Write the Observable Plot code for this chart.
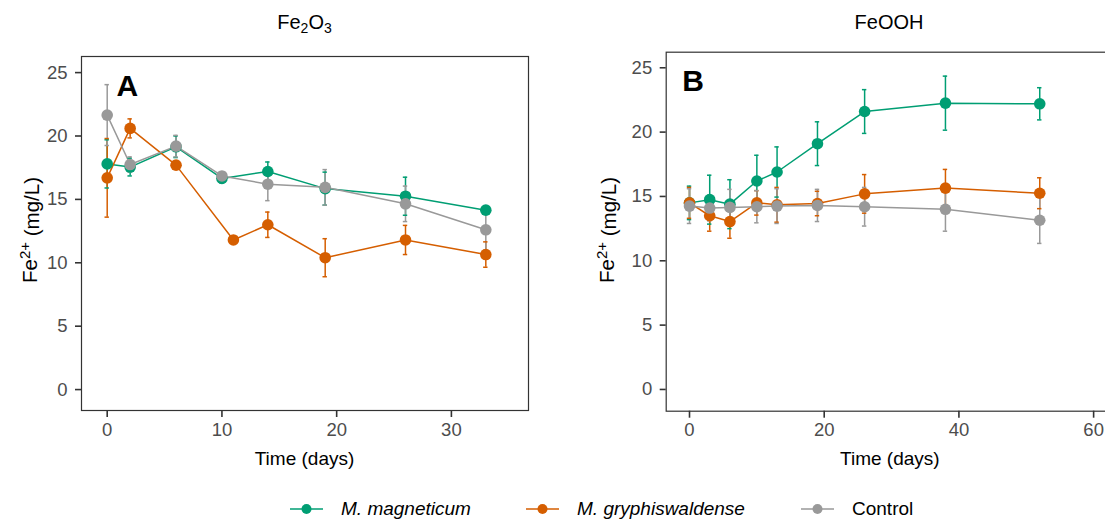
<!DOCTYPE html>
<html>
<head>
<meta charset="utf-8">
<script src="https://cdn.jsdelivr.net/npm/d3@7"></script>
<script src="https://cdn.jsdelivr.net/npm/@observablehq/plot@0.6"></script>
<style>
html, body { margin: 0; padding: 0; background: #fff; overflow: hidden; }
#wrap { position: relative; width: 1105px; height: 519px; overflow: hidden; background: #fff;
        font-family: "Liberation Sans", Arial, Helvetica, sans-serif; }
.panel { position: absolute; top: 0; }
.title { position: absolute; top: 0; font-size: 20px; color: #000; white-space: nowrap;
         transform: translateX(-50%); line-height: 1; }
.title sub { font-size: 14px; vertical-align: -4px; line-height: 0; }
svg [aria-label="x-axis tick label"], svg [aria-label="y-axis tick label"] { fill: #4d4d4d; font-size: 18.5px; }
svg [aria-label="x-axis tick label"] text, svg [aria-label="y-axis tick label"] text { font-size: 18.5px; }
</style>
</head>
<body>
<div id="wrap"></div>
<script>
// ---------- data ----------
const seriesNames = ["M. magneticum", "M. gryphiswaldense", "Control"];
const seriesColors = ["#009E73", "#D55E00", "#999999"];

// Panel A: Fe2O3
const daysA_mag = [0, 2, 6, 10, 14, 19, 26, 33];
const meanA_mag = [17.8, 17.55, 19.15, 16.65, 17.2, 15.85, 15.25, 14.15];
const sdA_mag   = [1.9, 0.7, 0.85, 0.35, 0.75, 1.3, 1.5, 0.2];

const daysA_gry = [0, 2, 6, 11, 14, 19, 26, 33];
const meanA_gry = [16.7, 20.6, 17.7, 11.8, 13.0, 10.4, 11.8, 10.65];
const sdA_gry   = [3.1, 0.75, 0.2, 0.2, 1.0, 1.5, 1.15, 1.0];

const daysA_ctl = [0, 2, 6, 10, 14, 19, 26, 33];
const meanA_ctl = [21.65, 17.75, 19.2, 16.85, 16.2, 15.95, 14.65, 12.6];
const sdA_ctl   = [2.4, 0.6, 0.85, 0.3, 1.3, 1.4, 1.4, 1.6];

// Panel B: FeOOH
const daysB = [0, 3, 6, 10, 13, 19, 26, 38, 52];
const meanB_mag = [14.5, 14.75, 14.4, 16.2, 16.9, 19.1, 21.6, 22.25, 22.2];
const sdB_mag   = [1.3, 1.9, 1.9, 2.0, 1.95, 1.7, 1.7, 2.1, 1.25];
const meanB_gry = [14.5, 13.5, 13.05, 14.5, 14.35, 14.45, 15.2, 15.65, 15.25];
const sdB_gry   = [1.2, 1.2, 1.3, 0.95, 1.35, 0.95, 1.5, 1.45, 1.2];
const meanB_ctl = [14.25, 14.1, 14.15, 14.2, 14.25, 14.3, 14.2, 14.0, 13.15];
const sdB_ctl   = [1.35, 1.0, 1.4, 1.25, 1.35, 1.25, 1.5, 1.7, 1.8];

const yTicks = [0, 5, 10, 15, 20, 25];
const xTicksA = [0, 10, 20, 30];
const xTicksB = [0, 20, 40, 60];
const panelTitles = [["Fe", "2", "O", "3"], ["FeOOH"]];
const panelLetters = ["A", "B"];
const xLabel = "Time (days)";

// ---------- build rows ----------
function rows(days, means, sds, name) {
  return days.map((d, i) => ({ series: name, day: d, mean: means[i], sd: sds[i] }));
}
const rowsA = [
  ...rows(daysA_mag, meanA_mag, sdA_mag, seriesNames[0]),
  ...rows(daysA_gry, meanA_gry, sdA_gry, seriesNames[1]),
  ...rows(daysA_ctl, meanA_ctl, sdA_ctl, seriesNames[2])
];
const rowsB = [
  ...rows(daysB, meanB_mag, sdB_mag, seriesNames[0]),
  ...rows(daysB, meanB_gry, sdB_gry, seriesNames[1]),
  ...rows(daysB, meanB_ctl, sdB_ctl, seriesNames[2])
];

const FONT = '"Liberation Sans", Arial, Helvetica, sans-serif';

function makePanel(data, o) {
  const capPx = 2.2;
  const pxPerUnit = (o.width - o.marginLeft - o.marginRight) / (o.xDomain[1] - o.xDomain[0]);
  const cap = capPx / pxPerUnit;
  const svg = Plot.plot({
    width: o.width, height: o.height,
    marginLeft: o.marginLeft, marginRight: o.marginRight,
    marginTop: o.marginTop, marginBottom: o.marginBottom,
    style: { fontFamily: FONT, fontSize: "18.5px", color: "#333", background: "white", overflow: "visible" },
    x: { domain: o.xDomain },
    y: { domain: o.yDomain },
    color: { domain: seriesNames, range: seriesColors },
    marks: [
      Plot.frame({ stroke: "#333", strokeWidth: 1.2 }),
      Plot.axisX({ ticks: o.xTicks, tickSize: 7, tickPadding: 5, strokeWidth: 1.6, label: null }),
      Plot.axisY({ ticks: yTicks, tickSize: 6, tickPadding: 8, strokeWidth: 1.6, label: null }),
      Plot.line(data, { x: "day", y: "mean", z: "series", stroke: "series", strokeWidth: 1.5 }),
      Plot.ruleX(data, { x: "day", y1: d => d.mean - d.sd, y2: d => d.mean + d.sd, stroke: "series", strokeWidth: 1.5 }),
      Plot.ruleY(data, { y: d => d.mean - d.sd, x1: d => d.day - cap, x2: d => d.day + cap, stroke: "series", strokeWidth: 1.5 }),
      Plot.ruleY(data, { y: d => d.mean + d.sd, x1: d => d.day - cap, x2: d => d.day + cap, stroke: "series", strokeWidth: 1.5 }),
      Plot.dot(data, { x: "day", y: "mean", fill: "series", r: 5.8 }),
      Plot.text([o.letter], { frameAnchor: "top-left", dx: o.letterDx, dy: o.letterDy, lineAnchor: "top",
        textAnchor: "start", fontSize: 30, fontWeight: 900, fill: "black", fontFamily: FONT })
    ]
  });
  const s = d3.select(svg);
  // y-axis title with superscript
  const yt = s.append("text")
    .attr("transform", `translate(${o.yLabelX},${o.yLabelY}) rotate(-90)`)
    .attr("text-anchor", "middle").attr("fill", "black")
    .style("font-size", "20.5px").style("font-family", FONT);
  yt.append("tspan").text("Fe");
  yt.append("tspan").attr("dy", "-0.45em").style("font-size", "15px").text("2+");
  yt.append("tspan").attr("dy", "0.45em").text(" (mg/L)");
  // x-axis title
  s.append("text")
    .attr("x", (o.marginLeft + o.width - o.marginRight) / 2).attr("y", o.xLabelY)
    .attr("text-anchor", "middle").attr("fill", "black")
    .style("font-size", "19px").style("font-family", FONT)
    .text(xLabel);
  return svg;
}

const wrap = document.getElementById("wrap");

const svgA = makePanel(rowsA, {
  width: 545, height: 480, marginLeft: 81, marginRight: 17, marginTop: 56, marginBottom: 70,
  xDomain: [-2.24, 36.72], yDomain: [-1.65, 26.27], xTicks: xTicksA,
  letter: panelLetters[0], letterDx: 35, letterDy: 18,
  yLabelX: 37, yLabelY: 230, xLabelY: 465
});
svgA.classList.add("panel"); svgA.style.left = "0px";
wrap.appendChild(svgA);

const svgB = makePanel(rowsB, {
  width: 560, height: 480, marginLeft: 105.7, marginRight: 6, marginTop: 51.7, marginBottom: 69.3,
  xDomain: [-3.46, 63.1], yDomain: [-1.69, 26.21], xTicks: xTicksB,
  letter: panelLetters[1], letterDx: 16, letterDy: 17,
  yLabelX: 54, yLabelY: 230, xLabelY: 465
});
svgB.classList.add("panel"); svgB.style.left = "560px";
wrap.appendChild(svgB);

// panel titles
const titleCenters = [304.5, 889];
panelTitles.forEach((parts, i) => {
  const div = document.createElement("div");
  div.className = "title";
  div.style.left = titleCenters[i] + "px";
  div.style.top = "12px";
  parts.forEach((p, j) => {
    if (/^\d+$/.test(p)) { const sub = document.createElement("sub"); sub.textContent = p; div.appendChild(sub); }
    else div.appendChild(document.createTextNode(p));
  });
  wrap.appendChild(div);
});

// legend
const legendSvg = d3.select(wrap).append("svg")
  .attr("width", 1105).attr("height", 40)
  .style("position", "absolute").style("left", "0px").style("top", "488px");
const legendX = [290, 526, 801];
seriesNames.forEach((name, i) => {
  const g = legendSvg.append("g").attr("transform", `translate(${legendX[i]},21)`);
  g.append("line").attr("x1", 0).attr("x2", 33).attr("y1", 0).attr("y2", 0)
    .attr("stroke", seriesColors[i]).attr("stroke-width", 1.5);
  g.append("circle").attr("cx", 16.5).attr("cy", 0).attr("r", 5).attr("fill", seriesColors[i]);
  g.append("text").attr("x", 51).attr("y", 6)
    .style("font-size", "19px").style("font-family", FONT)
    .style("font-style", i < 2 ? "italic" : "normal")
    .attr("fill", "black").text(name);
});
</script>
</body>
</html>
